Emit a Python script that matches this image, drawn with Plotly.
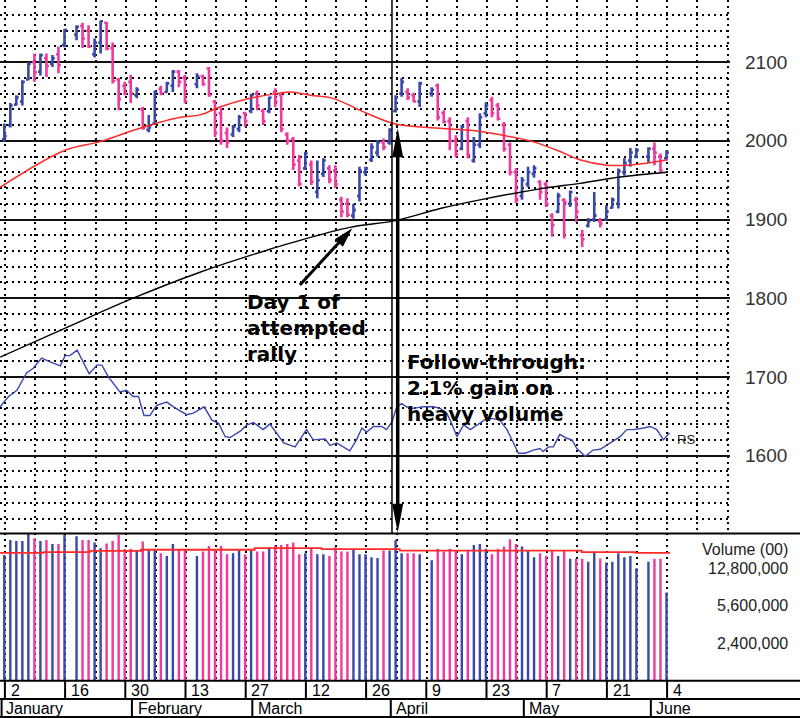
import numpy as np
import plotly.graph_objects as go

# trading-day slots (empty slots = market holidays)
days = ([0, 1, 2, 3, 4, 5, 6, 7, 8, 9, 10]
        + list(range(12, 31)) + list(range(32, 70)) + list(range(71, 106)) + [107, 108, 109, 110])

opens = [2002, 2020, 2046, 2050, 2078, 2100, 2088, 2105, 2098, 2110, 2122,
         2135, 2146, 2140, 2110, 2125, 2150, 2118, 2078, 2070, 2075, 2058, 2040, 2014, 2022, 2066, 2062, 2070, 2088, 2080,
         2072, 2082, 2092, 2050, 2035, 2010, 2008, 2015, 2035, 2038, 2060, 2038, 2038, 2062, 2058, 2008, 2002, 1975, 1965,
         1970, 1935, 1958, 1965, 1962, 1925, 1920, 1905, 1930, 1960, 1976, 1985, 1998, 1998, 2038, 2060, 2062, 2058, 2050,
         2060, 2070, 2035, 2025, 2000, 1990, 2025, 1975, 1995, 2035, 2052, 2045, 2020, 1995, 1960, 1930, 1945, 1958, 1948,
         1945, 1905, 1910, 1925, 1920, 1925, 1880, 1892, 1900, 1898, 1900, 1915, 1920, 1960, 1975, 1980,
         1980, 1990, 1980, 1978]
highs = [2022, 2048, 2058, 2077, 2100, 2111, 2111, 2111, 2109, 2120, 2142,
         2147, 2150, 2147, 2130, 2153, 2151, 2125, 2080, 2075, 2084, 2068, 2043, 2033, 2064, 2070, 2075, 2090, 2090, 2084,
         2086, 2084, 2094, 2052, 2042, 2017, 2020, 2033, 2037, 2060, 2064, 2041, 2056, 2067, 2060, 2011, 2005, 1982, 1986,
         1975, 1975, 1978, 1969, 1969, 1929, 1927, 1920, 1967, 1967, 1997, 2001, 2003, 2016, 2058, 2080, 2067, 2061, 2075,
         2068, 2073, 2039, 2030, 2007, 2020, 2030, 2005, 2035, 2049, 2056, 2048, 2024, 1998, 1965, 1954, 1967, 1969, 1950,
         1948, 1908, 1934, 1927, 1937, 1929, 1887, 1902, 1935, 1902, 1918, 1928, 1965, 1978, 1991, 1991,
         1992, 1998, 1984, 1988]
lows = [1999, 2017, 2045, 2045, 2077, 2075, 2083, 2081, 2094, 2086, 2119,
        2128, 2118, 2118, 2106, 2111, 2115, 2073, 2039, 2058, 2048, 2054, 2014, 2011, 2020, 2058, 2061, 2062, 2068, 2048,
        2067, 2070, 2056, 2005, 1995, 1991, 2005, 2011, 2018, 2035, 2039, 2020, 2035, 2043, 2011, 1995, 1963, 1942, 1963,
        1944, 1927, 1954, 1946, 1940, 1903, 1903, 1901, 1923, 1956, 1973, 1980, 1988, 1995, 2036, 2056, 2052, 2049, 2043,
        2056, 2026, 2022, 1988, 1979, 1988, 1978, 1972, 1991, 2030, 2030, 2026, 1986, 1956, 1921, 1925, 1941, 1953, 1925,
        1916, 1878, 1908, 1876, 1916, 1897, 1865, 1890, 1897, 1890, 1899, 1914, 1914, 1956, 1967, 1978,
        1972, 1969, 1959, 1975]
closes = [2006, 2045, 2055, 2075, 2098, 2087, 2109, 2095, 2105, 2096, 2141,
          2145, 2130, 2120, 2125, 2152, 2117, 2076, 2053, 2060, 2060, 2065, 2016, 2017, 2062, 2060, 2073, 2088, 2075, 2050,
          2082, 2072, 2058, 2010, 2000, 1998, 2018, 2030, 2025, 2058, 2045, 2025, 2055, 2050, 2015, 2000, 1970, 1945, 1984,
          1948, 1950, 1975, 1950, 1945, 1910, 1906, 1912, 1962, 1965, 1992, 1998, 1992, 2014, 2055, 2075, 2055, 2050, 2073,
          2065, 2030, 2024, 2000, 1983, 2018, 1982, 1995, 2030, 2045, 2035, 2028, 1990, 1960, 1925, 1950, 1960, 1965, 1935,
          1920, 1893, 1930, 1922, 1935, 1910, 1875, 1898, 1905, 1895, 1910, 1925, 1962, 1972, 1985, 1988,
          1990, 1985, 1962, 1985]
# u = up day (blue), d = down day (pink)
direction = list("uuuuudududu" "udduuddddd" "uduuduudd"
                 "uddddduudu" "ddudddddud" "uudddduuuu" "uduuuddu"
                 "udddduduuu" "ddddduuudd" "dududduudu" "uuuuu" "uddu")
# volume, millions (chart units are hundreds of shares)
volume_mil = [17.2, 24.0, 23.5, 23.5, 27.4, 25.0, 23.5, 24.0, 22.0, 22.0, 26.9,
              26.0, 24.0, 24.0, 22.7, 20.0, 22.2, 23.5, 26.9, 19.6, 19.7, 19.0, 23.2, 19.6, 19.6, 17.9, 16.8, 22.0, 19.6, 19.6,
              16.8, 18.6, 21.0, 19.6, 21.0, 17.5, 17.9, 19.6, 17.5, 19.0, 18.6, 18.6, 20.4, 21.0, 21.5, 22.0, 22.7, 17.5, 17.9,
              19.7, 17.5, 17.5, 16.8, 20.4, 18.6, 18.6, 19.7, 17.5, 17.5, 16.3, 16.1, 19.0, 19.0, 24.0, 17.9, 17.9, 17.9, 17.5,
              15.3, 19.7, 18.6, 19.7, 19.0, 17.5, 19.0, 21.5, 22.0, 19.7, 17.5, 19.7, 20.8, 24.4, 22.0, 20.8, 19.0, 16.3, 17.9,
              16.8, 19.0, 16.8, 19.0, 15.8, 15.9, 15.8, 14.8, 18.6, 15.9, 14.5, 14.8, 17.9, 16.3, 16.8, 12.8,
              14.8, 15.8, 15.8, 7.44]

ma50_x = [-0.7, 10.1, 15.9, 22.5, 29.2, 32.5, 35.8, 40.8, 45.2, 47.5, 50.8, 54.6, 60.2, 65.2,
          72.4, 77.9, 82.8, 87.8, 91.8, 95.6, 100.1, 103.4, 107.8, 110.1]
ma50_y = [1941, 1988, 1999, 2016, 2030, 2033, 2043, 2054, 2060, 2062, 2058, 2054, 2035, 2021,
          2016, 2013, 2007, 1999, 1988, 1976, 1969, 1969, 1973, 1976]
ma200_x = [-0.7, 10.4, 21.4, 32.5, 43.6, 47.5, 57.4, 65.2, 72.4, 79, 89, 95.6, 102.3, 110.1]
ma200_y = [1725, 1763, 1800, 1833, 1861, 1870, 1890, 1899, 1914, 1925, 1939, 1946, 1954, 1960]

rs_x = [-0.7, 0.7, 2.1, 3.7, 4.8, 6.2, 7.6, 9.3, 10.1, 10.9, 12.1, 13.1, 14.1, 15.4, 16.2, 17.3, 19.2, 20.3,
        21.4, 22.3, 23.2, 24.2, 25.3, 27.0, 28.1, 30.3, 31.4, 33.2, 34.5, 35.6, 36.7, 37.5, 39.2, 40.3, 41.4,
        43.0, 44.1, 45.3, 46.4, 48.3, 50.2, 51.3, 53.3, 54.1, 55.2, 56.3, 57.4, 58.5, 59.4, 60.2, 61.3, 62.7,
        63.5, 64.4, 65.2, 66.0, 66.8, 67.9, 69.6, 71.3, 72.4, 73.5, 74.3, 75.2, 76.3, 77.4, 79.0, 80.1, 81.2,
        82.3, 83.5, 84.6, 85.4, 86.5, 87.9, 89.0, 89.5, 90.4, 91.2, 92.3, 93.4, 94.3, 95.1, 96.5, 97.8, 99.0,
        100.6, 102.3, 103.4, 104.5, 106.2, 107.3, 108.4, 109.5, 110.5]
rs_y = [1662, 1675, 1683, 1705, 1711, 1724, 1719, 1714, 1727, 1727, 1734, 1719, 1704, 1715, 1715, 1700, 1681, 1683,
        1675, 1675, 1651, 1651, 1664, 1668, 1662, 1652, 1654, 1662, 1645, 1641, 1624, 1623, 1631, 1639, 1642,
        1633, 1640, 1628, 1616, 1611, 1633, 1620, 1621, 1613, 1616, 1611, 1606, 1620, 1635, 1630, 1637, 1637,
        1633, 1643, 1662, 1666, 1662, 1660, 1662, 1662, 1660, 1654, 1641, 1624, 1639, 1633, 1641, 1647, 1647,
        1645, 1633, 1616, 1603, 1603, 1607, 1609, 1605, 1611, 1611, 1627, 1622, 1620, 1609, 1599, 1607, 1608,
        1616, 1624, 1633, 1633, 1635, 1637, 1633, 1620, 1629]

vol_ma_x = [-0.7, 6.5, 14.2, 22.7, 41.6, 52.7, 65.7, 95.9, 104.8, 110.6]
vol_ma_mil = [18.0, 18.3, 18.8, 19.3, 20.0, 19.6, 18.9, 18.3, 18.0, 18.0]

price_ticks = [1600, 1700, 1800, 1900, 2000, 2100]
vol_ticks = [2400000, 5600000, 12800000]
vol_labels = ["2,400,000", "5,600,000", "12,800,000"]

date_slots = [0, 10, 20, 30, 40, 50, 60, 70, 80, 90, 100, 110]
date_labels = ["2", "16", "30", "13", "27", "12", "26", "9", "23", "7", "21", "4"]
month_starts = [-0.7, 21.2, 41.2, 64.2, 86.3, 107.4]
month_names = ["January", "February", "March", "April", "May", "June"]
week_lines = [w + 0.15 for w in range(0, 111, 5)]

day1_slot, day1_text_slot = 57.8, 40.0
ft_slot = 65.35

BLUE = "#3848a8"
PINK = "#ee3a9c"
RED = "#ff2a2a"
XR = [-0.714, 120.55]
XDOM = [0, 0.9125]
PRICE_DOM = [0.257, 1]
VOL_DOM = [0.052, 0.257]

up = [d == "u" for d in direction]
volume = [v * 1e6 for v in volume_mil]

fig = go.Figure()

for flag, col in ((True, BLUE), (False, PINK)):
    idx = [i for i, u in enumerate(up) if u == flag]
    fig.add_trace(go.Ohlc(
        x=[days[i] for i in idx],
        open=[opens[i] for i in idx], high=[highs[i] for i in idx],
        low=[lows[i] for i in idx], close=[closes[i] for i in idx],
        increasing=dict(line=dict(color=col, width=2.6)),
        decreasing=dict(line=dict(color=col, width=2.6)),
        tickwidth=0.4, hoverinfo="skip", showlegend=False))

fig.add_trace(go.Scatter(x=ma50_x, y=ma50_y, mode="lines", line=dict(color=RED, width=1.5, shape="spline")))
fig.add_trace(go.Scatter(x=ma200_x, y=ma200_y, mode="lines", line=dict(color="black", width=1.4, shape="spline")))
fig.add_trace(go.Scatter(x=rs_x, y=rs_y, mode="lines", line=dict(color="#3a48b0", width=1.4)))

fig.add_trace(go.Bar(x=days, y=volume, width=0.4, xaxis="x2", yaxis="y2",
                     marker=dict(color=[BLUE if u else PINK for u in up], line=dict(width=0))))
fig.add_trace(go.Scatter(x=vol_ma_x, y=[v * 1e6 for v in vol_ma_mil], mode="lines", xaxis="x2", yaxis="y2",
                         line=dict(color=RED, width=1.8, shape="hv")))

grid_dots = dict(showgrid=True, gridcolor="black", gridwidth=1.6, griddash="1.6px,4.4px")

fig.update_layout(
    width=800, height=718, margin=dict(l=0, r=0, t=0, b=0),
    paper_bgcolor="white", plot_bgcolor="white", showlegend=False,
    xaxis=dict(domain=XDOM, range=XR, anchor="y", tickmode="linear", tick0=0.15, dtick=5,
               showticklabels=False, ticks="", zeroline=False, rangeslider=dict(visible=False), **grid_dots),
    yaxis=dict(domain=PRICE_DOM, range=[1501, 2179], side="right", anchor="x",
               tickmode="array", tickvals=price_ticks, ticks="", ticklabelstandoff=14,
               showgrid=True, gridcolor="#111", gridwidth=1.8, zeroline=False,
               tickfont=dict(family="Liberation Sans", size=19, color="#333"),
               minor=dict(tickmode="linear", tick0=1500, dtick=20, **grid_dots)),
    xaxis2=dict(domain=XDOM, range=XR, anchor="y2", matches="x", tickmode="array", tickvals=week_lines,
                showticklabels=False, ticks="", zeroline=False, **grid_dots),
    yaxis2=dict(domain=VOL_DOM, type="log", range=[6.021, 7.443], anchor="x2",
                showgrid=False, showticklabels=False, ticks="", zeroline=False),
)

shapes = []
line_k = dict(color="black", width=2)
# panel separators and date rows
for yp in (PRICE_DOM[0], 1 - 699 / 718, 1 - 717 / 718):
    shapes.append(dict(type="line", xref="paper", yref="paper", x0=0, x1=1, y0=yp, y1=yp, line=line_k))
shapes.append(dict(type="line", xref="paper", yref="paper", x0=0, x1=1, y0=VOL_DOM[0], y1=VOL_DOM[0], line=line_k))
shapes.append(dict(type="line", xref="paper", yref="paper", x0=0.002, x1=0.002, y0=0, y1=1 - 699 / 718, line=line_k))
for s in date_slots:
    shapes.append(dict(type="line", xref="x2", yref="paper", x0=s + 0.1, x1=s + 0.1,
                       y0=1 - 699 / 718, y1=VOL_DOM[0], line=line_k))
for s in month_starts[1:]:
    shapes.append(dict(type="line", xref="x2", yref="paper", x0=s, x1=s,
                       y0=1 - 717 / 718, y1=1 - 699 / 718, line=line_k))
# follow-through marker
shapes.append(dict(type="line", xref="x", yref="paper", x0=64.4, x1=64.4, y0=PRICE_DOM[0], y1=1,
                   line=dict(color="black", width=1.5)))
shapes.append(dict(type="line", xref="x", yref="y", x0=ft_slot, x1=ft_slot, y0=1995, y1=1520,
                   line=dict(color="black", width=3.5)))
head = dict(type="path", xref="x", yref="y", xsizemode="pixel", ysizemode="pixel",
            fillcolor="black", line=dict(width=0))
shapes.append(dict(head, xanchor=ft_slot, yanchor=2016, path="M0,0 L-5.5,-29 L5.5,-29 Z"))
shapes.append(dict(head, xanchor=ft_slot, yanchor=1502, path="M0,0 L-5.5,29 L5.5,29 Z"))
# day 1 arrow
shapes.append(dict(type="line", xref="x", yref="y", x0=49.1, y0=1816.7, x1=56.1, y1=1875,
                   line=dict(color="black", width=3)))
shapes.append(dict(head, xanchor=day1_slot, yanchor=1889, path="M0,0 L-17.5,-11.1 L-9.4,-18.5 Z"))
fig.update_layout(shapes=shapes)

ann = []
bold = dict(family="DejaVu Sans", size=20, color="black")
ann.append(dict(x=day1_text_slot, y=1762, xref="x", yref="y", xanchor="left", yanchor="middle", align="left",
                text="<b>Day 1 of<br>attempted<br>rally</b>", showarrow=False, font=bold))
ann.append(dict(x=66.6, y=1686, xref="x", yref="y", xanchor="left", yanchor="middle", align="left",
                text="<b>Follow-through:<br>2.1% gain on<br>heavy volume</b>", showarrow=False, font=bold))
ann.append(dict(x=111.4, y=1620, xref="x", yref="y", xanchor="left", yanchor="middle", text="RS",
                showarrow=False, font=dict(family="Liberation Sans", size=13, color="#222")))
small = dict(family="Liberation Sans", size=16, color="#222")
ann.append(dict(x=0.9875, y=1 - 549 / 718, xref="paper", yref="paper", xanchor="right", yanchor="middle",
                text="Volume (00)", showarrow=False, font=small))
for v, t in zip(vol_ticks, vol_labels):
    ann.append(dict(x=0.9875, y=np.log10(v), xref="paper", yref="y2", xanchor="right", yanchor="middle",
                    text=t, showarrow=False, font=small))
for s, t in zip(date_slots, date_labels):
    ann.append(dict(x=s + 0.7, y=1 - 690 / 718, xref="x2", yref="paper", xanchor="left", yanchor="middle",
                    text=t, showarrow=False, font=dict(family="Liberation Sans", size=16, color="black")))
for s, t in zip(month_starts, month_names):
    ann.append(dict(x=s + 0.6, y=1 - 708 / 718, xref="x2", yref="paper", xanchor="left", yanchor="middle",
                    text=t, showarrow=False, font=dict(family="Liberation Sans", size=16, color="black")))
fig.update_layout(annotations=ann)

# page body has a default 8px margin; drop it so the figure fills the window
fig.write_html("out.html", config={"displayModeBar": False},
               post_script="document.body.style.margin='0';")
